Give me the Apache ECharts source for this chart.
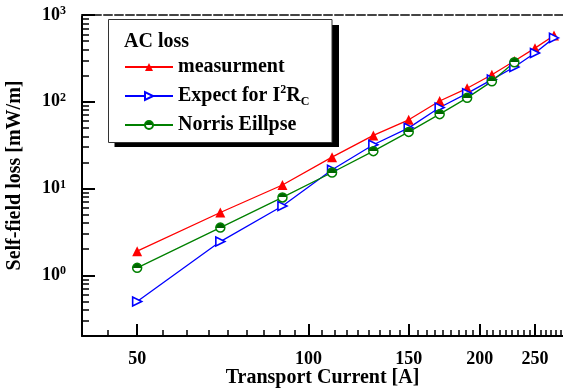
<!DOCTYPE html>
<html>
<head>
<meta charset="utf-8">
<script src="https://cdn.jsdelivr.net/npm/echarts@6/dist/echarts.min.js"></script>
<style>
html, body { margin: 0; padding: 0; background: #fff; }
#chart { width: 563px; height: 388px; }
</style>
</head>
<body>
<div id="chart"></div>
<script>
// transport current [A]
var currents = [50, 70, 90, 110, 130, 150, 170, 190, 210, 230, 250, 270];
// self-field loss [mW/m]
var measured = [1.9, 5.3, 11, 23, 41, 62, 102, 143, 205, 295, 415, 580];
var expected = [0.5, 2.45, 6.3, 16.5, 32, 50, 86, 125, 180, 252, 365, 545];
var norris = [1.22, 3.55, 7.9, 15.3, 27, 45, 72, 111, 172, 285];

var xTickValues = [50, 100, 150, 200, 250];
var yTickValues = [1, 10, 100, 1000];

// minor ticks: 8 between majors on x, 2..9 per decade on y
var xMinor = [];
for (var m = 0; m < 300; m += 50) {
    for (var k = 1; k < 9; k++) {
        var v = m + k * 50 / 9;
        if (v > 40 && v < 280) xMinor.push(v);
    }
}
var yMinor = [];
[0.1, 1, 10, 100].forEach(function (d) {
    for (var k = 2; k < 10; k++) {
        if (k * d >= 0.2) yMinor.push(+(k * d).toPrecision(3));
    }
});

function pairs(ys) {
    return ys.map(function (y, i) { return [currents[i], y]; });
}

var FONT = '"Liberation Serif", "Times New Roman", serif';
var txt = { fontFamily: FONT, fontWeight: 'bold', color: '#000' };

var chart = echarts.init(document.getElementById('chart'));
chart.setOption({
    animation: false,
    grid: { left: 82, right: 0, top: 15, bottom: 52, outerBoundsMode: 'none', containLabel: false },
    xAxis: [
        {
            type: 'log', min: 40, max: 280, position: 'bottom',
            axisLine: { lineStyle: { color: '#000', width: 2 } },
            axisTick: { inside: true, length: 12, customValues: xTickValues, lineStyle: { color: '#000', width: 2 } },
            axisLabel: Object.assign({ customValues: xTickValues, margin: 14, fontSize: 18 }, txt),
            splitLine: { show: false },
            name: 'Transport Current [A]',
            nameLocation: 'middle',
            nameGap: 32,
            nameMoveOverlap: false,
            nameTextStyle: Object.assign({ fontSize: 20 }, txt)
        },
        {
            type: 'log', min: 40, max: 280, position: 'bottom',
            axisLine: { show: false },
            axisTick: { inside: true, length: 6, customValues: xMinor, lineStyle: { color: '#000', width: 1.5 } },
            axisLabel: { show: false },
            splitLine: { show: false }
        },
        {
            type: 'log', min: 40, max: 280, position: 'top',
            axisLine: { lineStyle: { color: '#444', width: 2, type: [8, 3] } },
            axisTick: { show: false },
            axisLabel: { show: false },
            splitLine: { show: false }
        }
    ],
    yAxis: [
        {
            type: 'log', min: 0.2, max: 1000, position: 'left',
            axisLine: { lineStyle: { color: '#000', width: 2 } },
            axisTick: { inside: true, length: 13, customValues: yTickValues, lineStyle: { color: '#000', width: 2 } },
            axisLabel: {
                customValues: yTickValues,
                margin: 16,
                formatter: function (v) {
                    return '{b|10}{s|' + Math.round(Math.log10(v)) + '}';
                },
                rich: {
                    b: Object.assign({ fontSize: 18, lineHeight: 20 }, txt),
                    s: Object.assign({ fontSize: 12, lineHeight: 12, verticalAlign: 'top' }, txt)
                }
            },
            splitLine: { show: false },
            name: 'Self-field loss [mW/m]',
            nameLocation: 'middle',
            nameGap: 57,
            nameMoveOverlap: false,
            nameTextStyle: Object.assign({ fontSize: 20 }, txt)
        },
        {
            type: 'log', min: 0.2, max: 1000, position: 'left',
            axisLine: { show: false },
            axisTick: { inside: true, length: 7, customValues: yMinor, lineStyle: { color: '#000', width: 1.5 } },
            axisLabel: { show: false },
            splitLine: { show: false }
        }
    ],
    graphic: [
        { type: 'rect', z: 1, shape: { x: 114.5, y: 25, width: 224.5, height: 122 }, style: { fill: '#000' } },
        { type: 'rect', z: 2, shape: { x: 108.5, y: 19.5, width: 223.5, height: 123 }, style: { fill: '#fff', stroke: '#333', lineWidth: 1 } },
        { type: 'text', z: 3, x: 124, y: 42, style: { text: 'AC loss', font: 'bold 20px ' + FONT, fill: '#000', verticalAlign: 'middle' } }
    ],
    legend: {
        left: 124, top: 57, orient: 'vertical',
        itemWidth: 48, itemHeight: 10, itemGap: 7, padding: 0,
        selectedMode: false,
        formatter: function (name) {
            if (name.indexOf('Expect') === 0) return '{t|Expect for I}{sup|2}{t|R}{sub|C}';
            return '{t|' + name + '}';
        },
        textStyle: {
            rich: {
                t: Object.assign({ fontSize: 20, lineHeight: 24 }, txt),
                sup: Object.assign({ fontSize: 12, lineHeight: 12, verticalAlign: 'top' }, txt),
                sub: Object.assign({ fontSize: 12, lineHeight: 12, verticalAlign: 'bottom' }, txt)
            }
        }
    },
    series: [
        {
            name: 'measurment', type: 'line', data: pairs(measured),
            symbol: 'triangle', symbolSize: 10,
            lineStyle: { color: '#ff0000', width: 1.3 },
            itemStyle: { color: '#ff0000' }
        },
        {
            name: 'Expect for I2RC', type: 'line', data: pairs(expected),
            symbol: 'triangle', symbolRotate: -90, symbolSize: 9,
            lineStyle: { color: '#0000ff', width: 1.3 },
            itemStyle: { color: '#fff', borderColor: '#0000ff', borderWidth: 1.6 }
        },
        {
            name: 'Norris Eillpse', type: 'line', data: pairs(norris),
            symbol: 'circle', symbolSize: 9,
            lineStyle: { color: '#008000', width: 1.3 },
            itemStyle: {
                color: new echarts.graphic.LinearGradient(0, 0, 0, 1, [
                    { offset: 0, color: '#006400' }, { offset: 0.5, color: '#006400' },
                    { offset: 0.5, color: '#fff' }, { offset: 1, color: '#fff' }
                ]),
                borderColor: '#008000', borderWidth: 1.5
            }
        }
    ]
});
</script>
</body>
</html>
